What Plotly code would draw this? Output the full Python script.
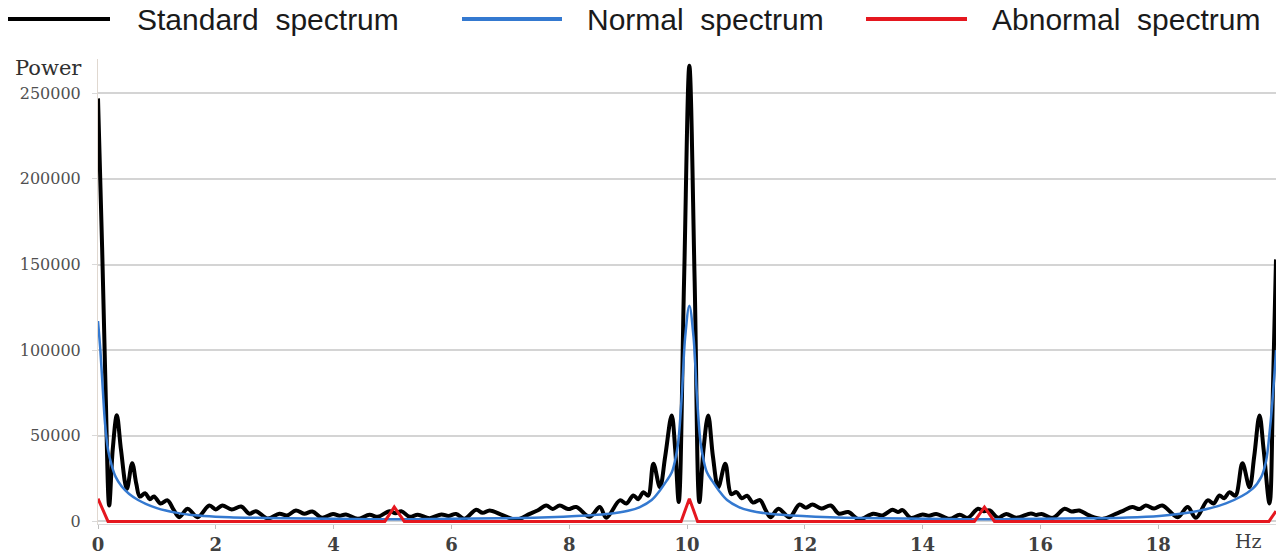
import plotly.graph_objects as go

# ---- spectrum data (frequency in Hz, power) ----
series_names = ["Standard spectrum", "Normal spectrum", "Abnormal spectrum"]
series_colors = ["#000000", "#3479d0", "#e5171f"]

std_freq = [
    0.00, 0.07, 0.13, 0.19, 0.25, 0.32, 0.39, 0.49, 0.58, 0.65, 0.71, 0.80, 0.88, 0.95,
    1.06, 1.18, 1.28, 1.38, 1.52, 1.69, 1.89, 2.00, 2.11, 2.27, 2.43, 2.57, 2.68, 2.88,
    3.08, 3.21, 3.36, 3.50, 3.64, 3.80, 3.99, 4.10, 4.21, 4.41, 4.61, 4.75, 4.95, 5.05,
    5.15, 5.29, 5.43, 5.63, 5.83, 5.95, 6.08, 6.22, 6.42, 6.53, 6.65, 6.88, 7.10, 7.33,
    7.47, 7.61, 7.72, 7.84, 7.98, 8.12, 8.35, 8.52, 8.63, 8.86, 8.97, 9.09, 9.17, 9.26,
    9.34, 9.43, 9.54, 9.63, 9.74, 9.80, 9.86, 9.95, 10.04, 10.13, 10.21, 10.28, 10.36,
    10.44, 10.53, 10.65, 10.75, 10.84, 10.93, 11.02, 11.12, 11.24, 11.33, 11.42, 11.55,
    11.74, 11.91, 12.02, 12.13, 12.28, 12.44, 12.58, 12.74, 12.92, 13.16, 13.32, 13.49,
    13.58, 13.66, 13.80, 14.00, 14.11, 14.23, 14.46, 14.63, 14.77, 14.94, 15.04, 15.14,
    15.28, 15.42, 15.59, 15.84, 15.93, 16.02, 16.21, 16.41, 16.53, 16.66, 16.83, 17.06,
    17.28, 17.42, 17.56, 17.68, 17.79, 17.93, 18.07, 18.33, 18.50, 18.64, 18.84, 18.94,
    19.04, 19.12, 19.21, 19.31, 19.43, 19.55, 19.63, 19.72, 19.79, 19.89, 19.95, 20.00,
]
std_power = [
    247000, 160000, 75000, 9300, 42000, 62000, 42000, 19000, 34000, 22000, 14500, 16500, 13000, 14600,
    10500, 12300, 7000, 2500, 7400, 2500, 9300, 7000, 9300, 7000, 8700, 4500, 6000, 1700,
    4500, 3500, 6400, 4500, 5800, 2100, 4400, 3300, 4100, 1500, 3900, 2700, 6000, 4800,
    6000, 2700, 3900, 1900, 4100, 3200, 4400, 1500, 6800, 5000, 6400, 3500, 1000, 4400,
    6500, 9300, 7300, 9300, 7200, 8400, 2700, 8400, 2100, 12300, 10500, 15200, 13000, 17100,
    15000, 33700, 20000, 38000, 61900, 42000, 11300, 140000, 266000, 140000, 11300, 42000, 61900,
    38000, 20000, 33700, 16000, 17100, 13500, 15000, 11000, 12500, 7000, 2500, 7400,
    2500, 9900, 8000, 9900, 7500, 9300, 4500, 5500, 1200, 4500, 3500, 6800,
    5500, 6600, 2100, 4100, 3300, 4400, 1500, 3900, 2100, 7400, 6000, 6400,
    2100, 4400, 2100, 4700, 3800, 4400, 2100, 7400, 5800, 6400, 3500, 1500,
    4400, 6500, 8400, 7200, 9300, 7500, 9300, 2500, 8400, 2100, 12300, 10500,
    15200, 13500, 17100, 15000, 33900, 20000, 38000, 61900, 42000, 10500, 80000, 153000,
]

normal_freq = [
    0.00, 0.04, 0.08, 0.12, 0.17, 0.23, 0.30, 0.40, 0.53, 0.68, 0.81, 1.00, 1.15, 1.35,
    1.55, 1.80, 2.23, 2.70, 3.20, 4.00, 5.00, 6.00, 6.80, 7.40, 7.90, 8.30, 8.69, 9.00,
    9.20, 9.40, 9.54, 9.65, 9.74, 9.80, 9.85, 9.91, 9.97, 10.04, 10.11, 10.17, 10.23,
    10.28, 10.34, 10.43, 10.54, 10.68, 10.88, 11.08, 11.39, 11.78, 12.18, 12.68, 13.28,
    14.08, 15.05, 16.00, 16.80, 17.40, 18.02, 18.58, 19.15, 19.60, 19.75, 19.83, 19.90,
    19.95, 20.00,
]
normal_power = [
    117000, 100000, 78000, 57000, 42000, 33000, 26000, 20500, 16000, 12500, 10300, 7800, 6400, 5000,
    3900, 3200, 2500, 2100, 1800, 1500, 1300, 1500, 1800, 2200, 2800, 3500, 4500, 6200,
    8400, 12500, 18100, 23500, 28500, 36000, 46000, 72600, 108000, 126000, 108000, 72600, 46000,
    36000, 28500, 23500, 18100, 12500, 8400, 6200, 4500, 3500, 2800, 2200, 1800,
    1500, 1300, 1500, 1800, 2200, 3200, 5500, 10500, 19000, 26000, 35000, 55000,
    75000, 100000,
]

abnormal_freq = [0.00, 0.17, 4.87, 5.03, 5.20, 9.90, 10.04, 10.18, 14.88, 15.05, 15.22, 19.88, 20.00]
abnormal_power = [13300, 0, 0, 8400, 0, 0, 13300, 0, 0, 8400, 0, 0, 6000]

x_ticks = [0, 2, 4, 6, 8, 10, 12, 14, 16, 18]
y_ticks = [0, 50000, 100000, 150000, 200000, 250000]

# ---- page geometry ----
W, H = 1276, 557
M_L, M_R, M_T, M_B = 98, 0, 59, 33
PLOT_W = W - M_L - M_R
PLOT_H = H - M_T - M_B


def px_x(px):
    return (px - M_L) / PLOT_W


def px_y(py):
    return (H - M_B - py) / PLOT_H


fig = go.Figure()
fig.add_trace(go.Scatter(
    x=std_freq, y=std_power, mode="lines", name=series_names[0],
    line=dict(color=series_colors[0], width=4, shape="spline", smoothing=1.0),
))
fig.add_trace(go.Scatter(
    x=normal_freq, y=normal_power, mode="lines", name=series_names[1],
    line=dict(color=series_colors[1], width=2.5, shape="spline", smoothing=1.0),
))
fig.add_trace(go.Scatter(
    x=abnormal_freq, y=abnormal_power, mode="lines", name=series_names[2],
    line=dict(color=series_colors[2], width=3),
))

# legend drawn across the top: sample line + label for each series
legend_pos = [(8, 110, 135), (462, 562, 585), (866, 967, 990)]
shapes = []
annotations = []
for (x0, x1, tx), name, color in zip(legend_pos, series_names, series_colors):
    shapes.append(dict(
        type="line", xref="paper", yref="paper",
        x0=px_x(x0), x1=px_x(x1), y0=px_y(19), y1=px_y(19),
        line=dict(color=color, width=4),
    ))
    annotations.append(dict(
        text=name.replace(" ", "\u00a0 "), xref="paper", yref="paper", x=px_x(tx), y=px_y(20),
        xanchor="left", yanchor="middle", showarrow=False,
        font=dict(family="Liberation Sans", size=30, color="#1a1a1a"),
    ))

annotations.append(dict(
    text="Power", xref="paper", yref="paper", x=px_x(48), y=px_y(68),
    xanchor="center", yanchor="middle", showarrow=False,
    font=dict(family="DejaVu Serif", size=21, color="#303030"),
))
annotations.append(dict(
    text="Hz", xref="paper", yref="paper", x=px_x(1248), y=px_y(541),
    xanchor="center", yanchor="middle", showarrow=False,
    font=dict(family="DejaVu Serif", size=19, color="#404040"),
))

fig.update_layout(
    width=W, height=H,
    margin=dict(l=M_L, r=M_R, t=M_T, b=M_B, pad=0),
    plot_bgcolor="white", paper_bgcolor="white",
    showlegend=False,
    shapes=shapes,
    annotations=annotations,
)
fig.update_xaxes(
    range=[0, 20], tickvals=x_ticks, ticktext=[str(v) for v in x_ticks],
    ticks="outside", ticklen=4, tickcolor="#bfbfbf",
    showgrid=False, zeroline=False, showline=True, linecolor="#d9d9d9",
    tickfont=dict(family="DejaVu Serif", size=18, color="#404040", weight="bold"),
)
fig.update_yaxes(
    range=[-1500, 270000], tickvals=y_ticks, ticktext=[str(v) for v in y_ticks],
    ticks="outside", ticklen=5, tickcolor="#d9d9d9",
    showgrid=True, gridcolor="#d4d4d4", gridwidth=1.5,
    zeroline=False, showline=True, linecolor="#e0d8d0",
    tickfont=dict(family="DejaVu Serif", size=16, color="#505050"),
    ticklabelstandoff=8,
)

fig.write_html("out.html")
